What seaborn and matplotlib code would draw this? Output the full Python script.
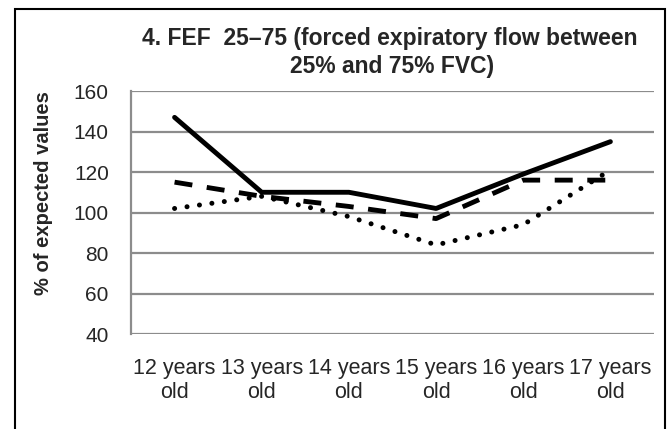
import seaborn as sns
import matplotlib.pyplot as plt
import pandas as pd
from matplotlib.patches import Rectangle

# значения
ages = ["12 years\nold", "13 years\nold", "14 years\nold",
        "15 years\nold", "16 years\nold", "17 years\nold"]
solid_vals = [147, 110, 110, 102, 119, 135]
dashed_vals = [115, 108, 103, 97, 116, 116]
dotted_vals = [102, 108, 98, 84, 94, 121]

sns.set_theme(style="white")
plt.rcParams['font.family'] = ['Liberation Sans', 'DejaVu Sans']

fig = plt.figure(figsize=(6.7, 4.29), dpi=100)
ax = fig.add_axes([0.1955, 0.2214, 0.7806, 0.5664])

df = pd.DataFrame({"age": ages, "solid": solid_vals,
                   "dashed": dashed_vals, "dotted": dotted_vals})
df["pos"] = range(len(ages))

sns.lineplot(data=df, x="pos", y="solid", ax=ax, color="black", lw=3.5)
sns.lineplot(data=df, x="pos", y="dashed", ax=ax, color="black", lw=3.5,
             linestyle=(0, (3.7, 3.0)), dash_capstyle="butt")
sns.lineplot(data=df, x="pos", y="dotted", ax=ax, color="black", lw=3.6,
             linestyle=(0, (0.01, 2.5)), dash_capstyle="round")

ax.set_xlim(-0.5, 5.5)
ax.set_ylim(40, 160)
ax.set_yticks(range(40, 161, 20))
ax.set_xticks(range(len(ages)))
ax.set_xticklabels(ages, fontsize=15.5, linespacing=1.2)
ax.tick_params(axis="y", labelsize=15, pad=10)
ax.tick_params(axis="x", pad=11)
ax.yaxis.grid(True, color="#8c8c8c", lw=1.6)
ax.xaxis.grid(False)
for s in ["top", "right", "bottom"]:
    ax.spines[s].set_visible(False)
ax.spines["left"].set_color("#8c8c8c")
ax.spines["left"].set_linewidth(1.6)
ax.set_xlabel("")
ax.set_ylabel("% of expected values", fontsize=14.5, fontweight="bold")
ax.yaxis.set_label_coords(-0.15, 0.58)

fig.text(0.582, 0.895, "4. FEF  25–75 (forced expiratory flow between",
         ha="center", va="baseline", fontsize=16.5, fontweight="bold")
fig.text(0.585, 0.830, "25% and 75% FVC)",
         ha="center", va="baseline", fontsize=16.5, fontweight="bold")

fig.patches.append(Rectangle((0.022, -0.05), 0.97, 1.029, transform=fig.transFigure,
                             fill=False, edgecolor="black", lw=1.5))

fig.savefig("out.png", dpi=100)
